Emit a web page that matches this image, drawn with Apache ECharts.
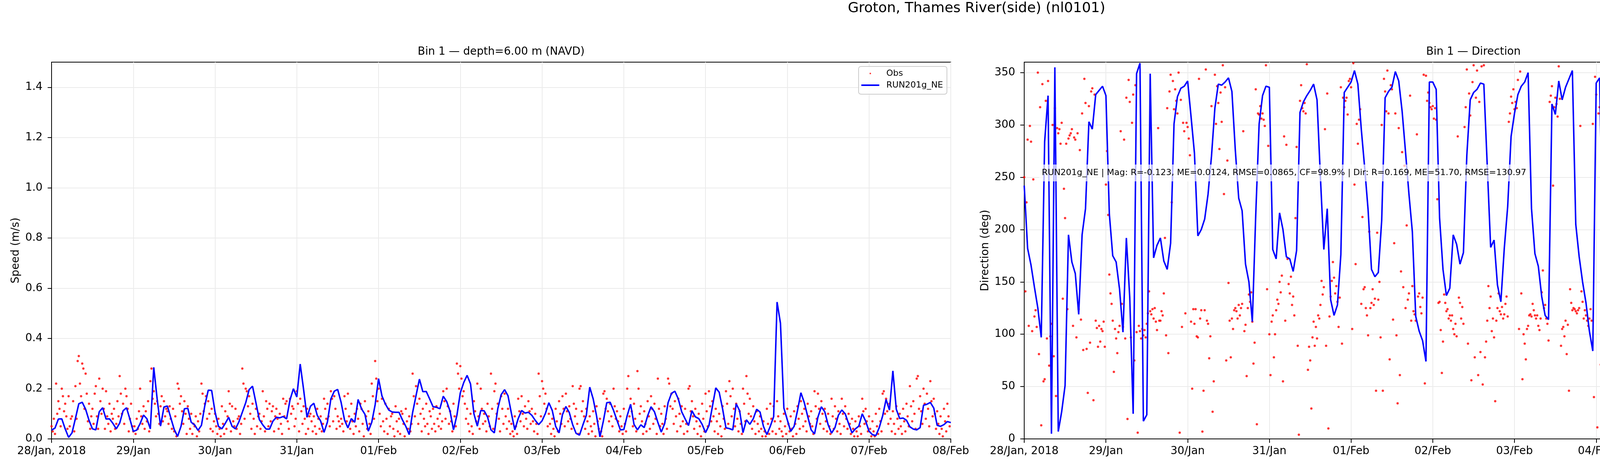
<!DOCTYPE html>
<html>
<head>
<meta charset="utf-8">
<script src="https://cdn.jsdelivr.net/npm/echarts@6/dist/echarts.min.js"></script>
<style>
html, body { margin: 0; padding: 0; background: #fff; }
#chart { width: 5000px; height: 1200px; }
</style>
</head>
<body>
<div id="chart"></div>
<script>
// hours since 28/Jan 00:00, one tick per day
const dayLabels = ['28/Jan, 2018', '29/Jan', '30/Jan', '31/Jan', '01/Feb', '02/Feb', '03/Feb', '04/Feb', '05/Feb', '06/Feb', '07/Feb', '08/Feb'];
const speedTicks = [0, 0.2, 0.4, 0.6, 0.8, 1.0, 1.2, 1.4];
const dirTicks = [0, 50, 100, 150, 200, 250, 300, 350];

// model, hourly (m/s)
const modelSpeed = [
0.035,0.043,0.079,0.080,0.040,0.006,0.024,0.081,0.140,0.146,0.118,0.074,0.040,0.036,0.108,0.124,0.079,0.080,0.062,0.040,0.063,0.112,0.124,0.079,
0.030,0.035,0.061,0.095,0.080,0.040,0.285,0.159,0.051,0.127,0.131,0.084,0.038,0.010,0.050,0.120,0.122,0.066,0.056,0.034,0.054,0.133,0.194,0.193,
0.107,0.050,0.040,0.062,0.086,0.050,0.040,0.068,0.106,0.144,0.196,0.210,0.144,0.077,0.056,0.039,0.039,0.071,0.086,0.084,0.089,0.080,0.155,0.200,
0.167,0.298,0.196,0.086,0.130,0.142,0.094,0.071,0.026,0.068,0.159,0.190,0.197,0.146,0.076,0.044,0.081,0.066,0.157,0.120,0.098,0.031,0.066,0.136,
0.240,0.171,0.139,0.115,0.107,0.106,0.106,0.076,0.050,0.017,0.105,0.172,0.238,0.188,0.189,0.159,0.128,0.126,0.120,0.170,0.149,0.110,0.036,0.094,
0.183,0.224,0.253,0.219,0.100,0.051,0.113,0.112,0.087,0.036,0.024,0.120,0.176,0.196,0.172,0.102,0.036,0.081,0.113,0.103,0.106,0.094,0.074,0.057,
0.072,0.102,0.144,0.113,0.050,0.024,0.097,0.129,0.105,0.056,0.022,0.015,0.056,0.094,0.206,0.160,0.092,0.008,0.071,0.144,0.146,0.113,0.074,0.036,
0.037,0.093,0.138,0.058,0.036,0.056,0.045,0.092,0.128,0.108,0.066,0.027,0.061,0.144,0.181,0.190,0.159,0.108,0.080,0.053,0.112,0.088,0.081,0.058,
0.025,0.053,0.128,0.203,0.186,0.120,0.044,0.041,0.036,0.140,0.112,0.025,0.076,0.058,0.080,0.118,0.107,0.050,0.017,0.050,0.089,0.545,0.460,0.123,
0.076,0.030,0.050,0.113,0.184,0.144,0.089,0.036,0.020,0.087,0.128,0.108,0.056,0.023,0.045,0.094,0.115,0.100,0.061,0.024,0.040,0.051,0.100,0.071,
0.031,0.017,0.013,0.045,0.092,0.157,0.115,0.271,0.118,0.081,0.083,0.074,0.048,0.039,0.036,0.045,0.134,0.138,0.145,0.123,0.054,0.050,0.057,0.069,
0.065];

// model, hourly (deg)
const modelDir = [
242,182,166,145,125,97,284,328,5,355,7,26,51,195,169,158,119,195,220,303,296,329,333,337,
328,215,175,169,143,102,192,135,24,349,359,17,23,349,173,185,192,170,162,187,301,327,335,337,
342,308,273,194,200,210,234,270,316,339,338,341,345,332,276,230,218,167,150,112,214,301,328,337,
336,181,172,216,200,174,172,160,180,312,322,328,333,339,324,250,181,220,133,118,128,176,331,336,
341,352,339,296,259,219,162,155,159,209,326,332,336,351,342,313,274,234,198,117,103,94,74,341,
341,334,211,162,137,144,195,186,167,178,271,324,331,334,340,339,261,183,190,147,131,182,222,289,
311,329,337,341,350,220,177,165,136,118,114,320,310,342,324,336,344,352,205,174,150,130,103,84,
340,345,174,125,19,300,211,182,154,160,162,178,310,324,333,338,339,322,271,186,189,175,126,110,
60,352,349,337,335,342,313,270,192,188,186,71,87,76,354,355,344,348,289,165,159,181,169,143,
145,154,321,321,345,5,9,19,214,167,159,167,182,208,303,320,325,335,344,338,250,174,184,171,
113,136,304,309,348,323,347,182,172,215,207,216,183,182,190,297,320,328,329,329,331,274,235,209,
206];

// observations, three per hour (speed in cm/s)
const obsSpeedCm = [
5,3,8, 2,22,10, 15,12,5, 20,17,11, 14,9,4, 17,5,8, 9,15,3, 21,8,31, 33,22,17, 30,28,12, 26,18,7, 14,4,9,
12,6,18, 21,9,4, 24,15,10, 20,12,4, 19,9,6, 14,3,10, 8,12,4, 6,15,9, 25,18,10, 14,6,20, 17,12,3, 8,14,5,
3,5,2, 8,4,11, 20,9,6, 13,4,11, 7,15,3, 23,28,16, 19,14,9, 15,10,6, 13,17,7, 15,9,12, 11,6,13, 8,4,12,
3,9,1, 22,20,14, 17,11,6, 15,10,2, 13,8,4, 10,2,6, 5,9,1, 7,3,10, 22,18,11, 14,17,8, 15,10,4, 12,3,7,
10,5,2, 8,4,1, 13,6,2, 11,4,9, 19,14,3, 13,7,5, 12,4,8, 9,2,6, 28,22,8, 20,19,13, 17,10,4, 14,8,2,
12,5,9, 10,4,7, 19,9,3, 15,12,5, 14,7,11, 13,3,9, 12,8,4, 10,6,2, 16,9,14, 15,7,4, 16,10,13, 12,5,8,
19,14,3, 16,11,6, 13,8,2, 12,4,9, 10,7,3, 9,5,2, 12,8,4, 9,3,6, 16,12,8, 14,9,5, 19,16,7, 17,12,4,
9,7,5, 8,6,3, 17,12,7, 18,9,4, 14,7,2, 10,5,12, 8,3,14, 12,6,1, 15,9,4, 11,6,2, 22,17,8, 31,24,15,
20,10,5, 16,7,3, 14,8,2, 12,5,9, 10,4,1, 13,7,3, 8,2,11, 10,6,1, 12,7,4, 9,3,6, 26,17,9, 21,14,6,
16,10,3, 12,8,5, 14,6,2, 11,9,4, 12,6,3, 13,8,5, 10,4,7, 19,15,8, 20,13,6, 11,7,3, 14,9,5, 30,26,20,
29,24,17, 19,14,8, 12,6,3, 10,5,2, 15,11,7, 22,9,4, 20,12,6, 10,7,3, 14,9,5, 26,12,4, 19,22,10, 14,8,3,
17,12,6, 18,9,4, 12,7,2, 6,3,1, 9,5,2, 16,11,7, 17,10,5, 13,8,4, 15,11,6, 12,7,3, 10,6,2, 26,17,9,
23,20,14, 18,12,5, 10,6,2, 8,4,1, 12,7,3, 15,10,6, 17,12,5, 18,11,7, 13,8,4, 21,14,9, 12,6,2, 20,21,11,
15,9,4, 12,7,2, 9,5,3, 11,6,1, 13,7,4, 8,3,1, 18,19,12, 16,11,7, 14,9,5, 20,13,8, 11,7,3, 9,5,2,
12,6,3, 20,25,9, 16,11,5, 14,8,3, 27,20,10, 13,7,2, 11,6,3, 15,9,4, 17,12,6, 14,8,2, 24,12,5, 10,6,2,
13,8,4, 24,22,13, 18,12,6, 15,9,3, 16,10,5, 13,7,2, 12,6,3, 20,21,11, 15,9,4, 12,7,2, 10,5,1, 14,8,3,
18,11,5, 19,13,7, 15,9,3, 12,7,2, 10,5,1, 13,8,4, 19,14,6, 23,17,9, 20,12,5, 14,8,3, 11,6,2, 20,14,7,
25,18,10, 16,9,4, 13,7,2, 11,6,3, 9,4,1, 7,3,1, 12,6,2, 14,8,3, 13,7,2, 15,9,4, 7,3,1, 10,5,2,
12,6,3, 9,4,1, 11,6,2, 13,8,4, 15,10,5, 12,7,3, 14,9,6, 11,5,2, 19,13,8, 18,12,6, 15,10,4, 12,7,3,
10,5,2, 16,9,4, 13,8,3, 11,6,2, 16,10,5, 13,8,4, 10,6,2, 8,4,1, 7,3,1, 9,5,2, 16,11,6, 12,7,3,
9,4,1, 7,3,1, 10,5,2, 12,7,3, 18,19,10, 16,11,6, 14,8,3, 11,6,2, 13,8,4, 10,5,2, 12,7,3, 14,9,5,
21,13,7, 15,10,4, 24,25,12, 17,11,6, 20,14,8, 18,12,5, 23,15,9, 16,10,4, 11,6,2, 9,4,1, 12,7,3, 14,9,5];

// observations, three per hour (deg)
const obsDir = [
250,141,226, 286,108,299, 284,103,248, 117,123,107, 350,81,317, 13,339,55, 57,323,96, 342,70,98, 110,300,79, 316,41,297, 292,296,282, 302,134,239,
211,282,124, 287,290,292, 296,108,288, 286,97,292, 124,276,114, 311,85,344, 321,86,44, 318,92,332, 335,37,329, 113,106,88, 108,93,105, 103,112,88,
243,275,214, 157,139,129, 113,64,105, 96,82,102, 108,294,129, 107,286,96, 326,19,343, 322,97,302, 329,75,338, 102,6,108, 103,96,105, 99,104,97,
110,120,141, 122,119,124, 115,125,112, 104,297,113, 113,122,118, 139,192,99, 316,82,332, 348,226,342, 315,334,323, 311,350,6, 324,107,302, 294,120,302,
298,287,271, 112,48,124, 110,124,98, 97,344,115, 123,7,46, 123,353,113, 110,77,98, 318,26,55, 348,301,337, 321,277,331, 303,357,234, 336,75,266,
149,113,78, 115,105,123, 125,122,115, 128,118,125, 129,294,103, 109,60,125, 138,131,140, 112,72,92, 334,14,311, 310,318,306, 311,305,299, 357,143,280,
100,61,112, 118,78,100, 123,133,129, 150,140,156, 55,289,113, 281,172,148, 139,155,128, 136,118,211, 279,89,4, 323,338,316, 313,321,311, 358,66,88,
75,29,97, 112,89,107, 96,118,115, 128,151,138, 145,296,89, 330,10,117, 136,151,169, 154,139,146, 131,107,135, 336,91,326, 317,323,326, 310,342,344,
336,105,359, 243,167,301, 282,305,315, 129,212,143, 145,125,118, 99,198,125, 130,143,128, 134,46,197, 133,150,97, 300,46,344, 332,313,352, 311,76,338,
334,114,187, 311,99,34, 297,61,160, 274,145,261, 125,204,133, 139,328,113, 146,122,119, 113,291,136, 139,126,120, 135,348,53, 347,323,331, 321,317,315,
318,306,316, 305,229,130, 131,104,63, 93,138,130, 122,124,115, 118,113,118, 105,100,110, 98,289,135, 130,115,126, 110,298,317, 353,91,330, 309,56,341,
357,78,326, 352,61,322, 83,356,52, 357,78,93, 113,146,125, 136,103,115, 97,36,113, 125,139,122, 119,126,115, 119,129,136, 117,303,311, 327,321,334,
315,322,316, 343,105,351, 139,57,100, 91,76,105, 108,118,119, 117,129,123, 118,115,118, 108,104,115, 140,161,125, 128,115,110, 94,322,328, 337,242,317,
326,320,308, 356,325,89, 105,107,98, 113,81,109, 46,143,130, 123,125,124, 122,120,123, 125,299,141, 131,115,123, 118,113,108, 115,124,113, 301,40,346,
329,11,311, 317,71,302, 311,326,36, 316,109,318, 108,113,103, 131,208,134, 136,145,130, 124,313,118, 301,113,303, 281,144,271, 296,108,98, 341,44,13,
338,41,324, 316,89,305, 317,61,339, 297,120,336, 343,29,297, 311,72,227, 113,133,118, 115,103,118, 108,324,103, 110,68,126, 144,113,122, 108,297,310,
313,41,334, 321,46,311, 275,10,328, 321,94,353, 326,78,281, 317,53,95, 107,122,113, 119,124,133, 157,129,109, 115,88,4, 133,26,97, 110,122,118,
118,300,136, 302,49,322, 318,102,348, 315,72,311, 355,94,75, 98,84,104, 112,123,119, 115,118,114, 341,46,100, 322,113,271, 240,115,133, 103,297,86,
315,86,349, 334,16,345, 310,49,331, 303,68,309, 291,81,289, 286,108,227, 122,114,100, 108,118,112, 119,126,129, 120,115,118, 117,296,110, 109,289,72,
297,115,306, 292,104,281, 100,79,98, 96,296,55, 103,311,96, 93,343,26, 86,306,37, 108,295,96, 259,178,289, 283,234,143, 291,198,289, 104,192,123,
125,208,119, 289,105,286, 316,75,310, 303,9,307, 300,321,309, 315,320,316, 326,26,313, 326,46,305, 310,289,263, 270,226,260, 292,239,298, 291,302,317,
295,112,289, 294,102,276, 296,306,292, 326,36,320, 310,306,303, 300,276,306, 310,298,307, 305,301,303, 315,56,316, 102,289,104, 96,62,110, 112,108,109];

const statsText = 'RUN201g_NE | Mag: R=-0.123, ME=0.0124, RMSE=0.0865, CF=98.9% | Dir: R=0.169, ME=51.70, RMSE=130.97';

const fontFamily = 'DejaVu Sans';
const obsPerHour = 3;

function hourly(values) {
    return values.map((v, i) => [i, v]);
}
function obsPoints(values, scale) {
    return values.map((v, i) => [i / obsPerHour, v * scale]);
}

function xAxisFor(gridIndex) {
    return {
        type: 'value', gridIndex: gridIndex, min: 0, max: 264, interval: 24,
        axisLine: { show: true, onZero: false, lineStyle: { color: '#000', width: 2 } },
        axisTick: { show: true, length: 10, lineStyle: { color: '#000', width: 2 } },
        axisLabel: {
            formatter: v => dayLabels[Math.round(v / 24)], showMinLabel: true, showMaxLabel: true,
            fontSize: 27.8, color: '#000', fontFamily: fontFamily, margin: 18
        },
        splitLine: { show: true, lineStyle: { color: '#ebebeb', width: 2 } }
    };
}
function yAxisFor(gridIndex, name, max, interval, ticks, gap, fmt) {
    return {
        type: 'value', gridIndex: gridIndex, min: 0, max: max, interval: interval,
        name: name, nameLocation: 'middle', nameGap: gap,
        nameTextStyle: { fontSize: 27.8, color: '#000', fontFamily: fontFamily },
        axisLine: { show: true, onZero: false, lineStyle: { color: '#000', width: 2 } },
        axisTick: { show: true, length: 10, customValues: ticks, lineStyle: { color: '#000', width: 2 } },
        axisLabel: {
            customValues: ticks, formatter: fmt,
            fontSize: 27.8, color: '#000', fontFamily: fontFamily, margin: 23
        },
        splitLine: { show: true, lineStyle: { color: '#ebebeb', width: 2 } }
    };
}
function legendAt(left) {
    return {
        left: left, top: 170, orient: 'vertical',
        data: [{ name: 'Obs', icon: 'circle' }, { name: 'RUN201g_NE', icon: 'rect' }],
        itemWidth: 46, itemHeight: 4, itemGap: 6,
        padding: [6, 10, 11, 7],
        backgroundColor: 'rgba(255,255,255,0.8)', borderColor: '#cccccc', borderWidth: 2, borderRadius: 6,
        textStyle: { fontSize: 22, lineHeight: 24, color: '#000', fontFamily: fontFamily, padding: [0, 0, 0, 13] }
    };
}
function titleAt(text, x, top, size) {
    return {
        text: text, left: x, top: top, textAlign: 'center', padding: 0,
        textStyle: { fontSize: size, fontWeight: 'normal', color: '#000', fontFamily: fontFamily }
    };
}

const chart = echarts.init(document.getElementById('chart'), null, { renderer: 'canvas' });
chart.setOption({
    animation: false,
    backgroundColor: '#fff',
    title: [
        titleAt('Groton, Thames River(side) (nl0101)', 2500, 4, 36),
        titleAt('Bin 1 \u2014 depth=6.00 m (NAVD)', 1283, 119, 27.8),
        titleAt('Bin 1 \u2014 Direction', 3772, 119, 27.8)
    ],
    grid: [
        { left: 132, top: 159, width: 2302, height: 964, show: true, borderColor: '#000', borderWidth: 2, backgroundColor: 'transparent' },
        { left: 2622, top: 159, width: 2301, height: 964, show: true, borderColor: '#000', borderWidth: 2, backgroundColor: 'transparent' }
    ],
    xAxis: [xAxisFor(0), xAxisFor(1)],
    yAxis: [
        yAxisFor(0, 'Speed (m/s)', 1.5, 0.2, speedTicks, 77, v => v.toFixed(1)),
        yAxisFor(1, 'Direction (deg)', 360, 50, dirTicks, 85, v => String(v))
    ],
    legend: [legendAt(2198), legendAt(4686)],
    series: [
        {
            name: 'Obs', type: 'scatter', xAxisIndex: 0, yAxisIndex: 0,
            data: obsPoints(obsSpeedCm, 0.01), symbolSize: 6, itemStyle: { color: '#ff0000' }
        },
        {
            name: 'RUN201g_NE', type: 'line', xAxisIndex: 0, yAxisIndex: 0,
            data: hourly(modelSpeed), symbol: 'none', showSymbol: false,
            lineStyle: { color: '#0000ff', width: 3.8 }, itemStyle: { color: '#0000ff' }, z: 3
        },
        {
            name: 'Obs', type: 'scatter', xAxisIndex: 1, yAxisIndex: 1,
            data: obsPoints(obsDir, 1), symbolSize: 6, itemStyle: { color: '#ff0000' }
        },
        {
            name: 'RUN201g_NE', type: 'line', xAxisIndex: 1, yAxisIndex: 1,
            data: hourly(modelDir), symbol: 'none', showSymbol: false,
            lineStyle: { color: '#0000ff', width: 3.8 }, itemStyle: { color: '#0000ff' }, z: 3
        }
    ],
    graphic: [{
        type: 'text', left: 2660, top: 421, z: 100,
        style: {
            text: statsText, font: '22px "DejaVu Sans"', fill: '#000', lineHeight: 23,
            backgroundColor: 'rgba(255,255,255,0.7)', padding: [10, 7, 10, 7]
        }
    }]
});
</script>
</body>
</html>
